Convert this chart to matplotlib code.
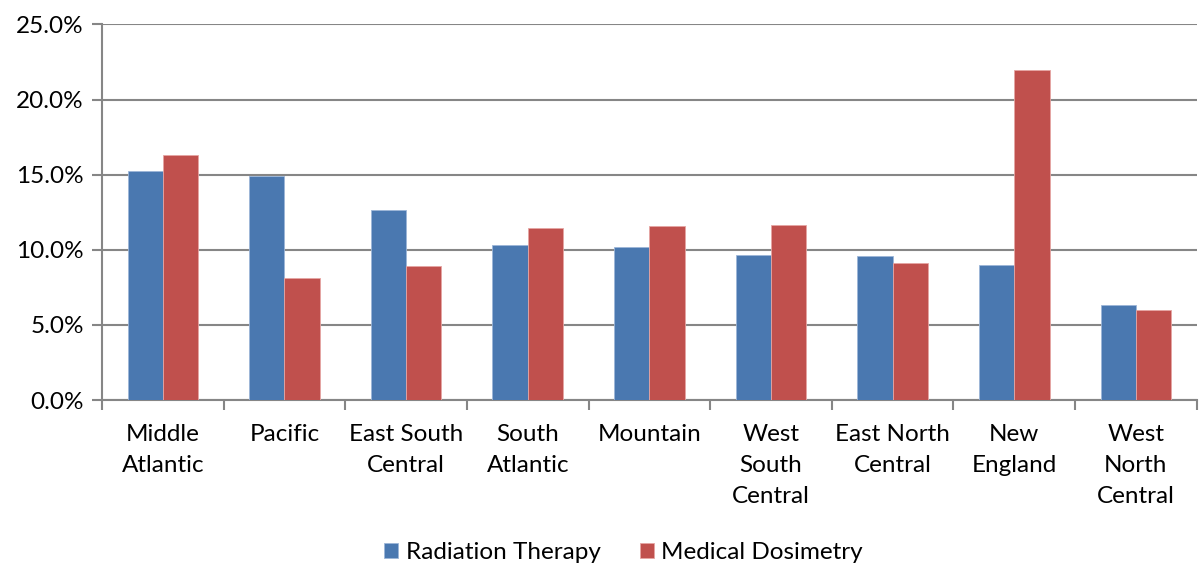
import numpy as np
import matplotlib.pyplot as plt
from matplotlib.ticker import FuncFormatter, FixedLocator

regions = ["Middle\nAtlantic", "Pacific", "East South\nCentral", "South\nAtlantic",
           "Mountain", "West\nSouth\nCentral", "East North\nCentral", "New\nEngland",
           "West\nNorth\nCentral"]
radiation = [15.23, 14.88, 12.63, 10.32, 10.19, 9.63, 9.59, 9.01, 6.30]
dosimetry = [16.32, 8.15, 8.95, 11.43, 11.61, 11.68, 9.15, 21.99, 6.01]

plt.rcParams['font.family'] = ['Lato', 'DejaVu Sans']
fig = plt.figure(figsize=(11.99, 5.67), dpi=100)
ax = fig.add_axes([0.0851, 0.2945, 0.913, 0.6625])

x = np.arange(len(regions))
w = 0.29
ax.bar(x - w/2, radiation, w, color='#4A78B0', edgecolor='#9CB6D8', linewidth=0.6,
       label='Radiation Therapy', zorder=3)
ax.bar(x + w/2, dosimetry, w, color='#C0504D', edgecolor='#E6A5A3', linewidth=0.6,
       label='Medical Dosimetry', zorder=3)

ax.set_xlim(-0.5, len(regions) - 0.5)
ax.set_ylim(0, 25)
ax.set_yticks(np.arange(0, 26, 5))
ax.yaxis.set_major_formatter(FuncFormatter(lambda v, p: f"{v:.1f}%"))
ax.yaxis.grid(True, color='#868686', linewidth=1.5, zorder=0)

ax.set_xticks(x)
ax.set_xticklabels(regions, fontsize=17.5, linespacing=1.6)
ax.xaxis.set_minor_locator(FixedLocator(np.arange(-0.5, len(regions), 1.0)))
ax.tick_params(axis='x', which='major', length=0, pad=17)
ax.tick_params(axis='x', which='minor', length=7, width=1.5, color='#868686')
ax.tick_params(axis='y', length=7, width=1.5, color='#868686', labelsize=17.5, pad=6)

for s in ['top', 'right']:
    ax.spines[s].set_visible(False)
for s in ['left', 'bottom']:
    ax.spines[s].set_color('#868686')
    ax.spines[s].set_linewidth(1.5)

fig.legend(loc='center', bbox_to_anchor=(0.52, 0.025), ncol=2, frameon=False,
           fontsize=17.5, handlelength=0.6, handleheight=0.6, columnspacing=1.6,
           handletextpad=0.3)

fig.savefig('out.png', dpi=100)
